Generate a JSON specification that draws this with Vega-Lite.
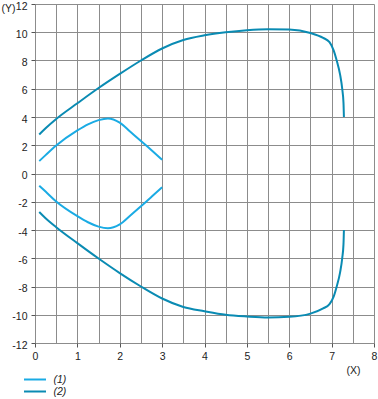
{
  "$schema": "https://vega.github.io/schema/vega-lite/v6.json",
  "width": 339,
  "height": 339,
  "autosize": {"type": "none"},
  "padding": {"left": 35, "top": 4, "right": 4, "bottom": 56},
  "config": {
    "view": {"stroke": null},
    "font": "Liberation Sans",
    "axis": {
      "domain": false,
      "grid": true,
      "gridColor": "#8c8c8c",
      "gridOpacity": 1,
      "gridWidth": 1,
      "tickColor": "#555555",
      "tickSize": 4,
      "labelFontSize": 10.5,
      "labelColor": "#222222",
      "labelFlush": false,
      "labelOverlap": false,
      "labelPadding": 4,
      "titleFontWeight": "normal",
      "titleFontSize": 10.5,
      "titleColor": "#222222"
    }
  },
  "data": {
    "values": [
      {"s": "(1)", "b": "1u", "i": 0, "x": 0.1, "y": 0.88},
      {"s": "(1)", "b": "1u", "i": 1, "x": 0.25, "y": 1.3},
      {"s": "(1)", "b": "1u", "i": 2, "x": 0.5, "y": 1.98},
      {"s": "(1)", "b": "1u", "i": 3, "x": 1.0, "y": 3.05},
      {"s": "(1)", "b": "1u", "i": 4, "x": 1.25, "y": 3.48},
      {"s": "(1)", "b": "1u", "i": 5, "x": 1.5, "y": 3.78},
      {"s": "(1)", "b": "1u", "i": 6, "x": 1.72, "y": 3.9},
      {"s": "(1)", "b": "1u", "i": 7, "x": 2.0, "y": 3.6},
      {"s": "(1)", "b": "1u", "i": 8, "x": 2.25, "y": 2.95},
      {"s": "(1)", "b": "1u", "i": 9, "x": 2.5, "y": 2.3},
      {"s": "(1)", "b": "1u", "i": 10, "x": 2.75, "y": 1.65},
      {"s": "(1)", "b": "1u", "i": 11, "x": 3.0, "y": 0.97},
      {"s": "(1)", "b": "1l", "i": 0, "x": 0.1, "y": -0.86},
      {"s": "(1)", "b": "1l", "i": 1, "x": 0.25, "y": -1.28},
      {"s": "(1)", "b": "1l", "i": 2, "x": 0.5, "y": -1.98},
      {"s": "(1)", "b": "1l", "i": 3, "x": 1.0, "y": -3.02},
      {"s": "(1)", "b": "1l", "i": 4, "x": 1.25, "y": -3.45},
      {"s": "(1)", "b": "1l", "i": 5, "x": 1.5, "y": -3.76},
      {"s": "(1)", "b": "1l", "i": 6, "x": 1.72, "y": -3.88},
      {"s": "(1)", "b": "1l", "i": 7, "x": 2.0, "y": -3.6},
      {"s": "(1)", "b": "1l", "i": 8, "x": 2.25, "y": -2.97},
      {"s": "(1)", "b": "1l", "i": 9, "x": 2.5, "y": -2.32},
      {"s": "(1)", "b": "1l", "i": 10, "x": 2.75, "y": -1.65},
      {"s": "(1)", "b": "1l", "i": 11, "x": 3.0, "y": -0.97},
      {"s": "(2)", "b": "2u", "i": 0, "x": 0.1, "y": 2.76},
      {"s": "(2)", "b": "2u", "i": 1, "x": 0.25, "y": 3.2},
      {"s": "(2)", "b": "2u", "i": 2, "x": 0.5, "y": 3.86},
      {"s": "(2)", "b": "2u", "i": 3, "x": 1.0, "y": 4.97},
      {"s": "(2)", "b": "2u", "i": 4, "x": 1.5, "y": 6.05},
      {"s": "(2)", "b": "2u", "i": 5, "x": 2.0, "y": 7.05},
      {"s": "(2)", "b": "2u", "i": 6, "x": 2.5, "y": 8.0},
      {"s": "(2)", "b": "2u", "i": 7, "x": 3.0, "y": 8.85},
      {"s": "(2)", "b": "2u", "i": 8, "x": 3.5, "y": 9.45},
      {"s": "(2)", "b": "2u", "i": 9, "x": 4.0, "y": 9.78},
      {"s": "(2)", "b": "2u", "i": 10, "x": 4.5, "y": 10.0},
      {"s": "(2)", "b": "2u", "i": 11, "x": 5.0, "y": 10.15},
      {"s": "(2)", "b": "2u", "i": 12, "x": 5.5, "y": 10.22},
      {"s": "(2)", "b": "2u", "i": 13, "x": 6.0, "y": 10.2},
      {"s": "(2)", "b": "2u", "i": 14, "x": 6.5, "y": 9.95},
      {"s": "(2)", "b": "2u", "i": 15, "x": 6.8, "y": 9.6},
      {"s": "(2)", "b": "2u", "i": 16, "x": 6.95, "y": 9.3},
      {"s": "(2)", "b": "2u", "i": 17, "x": 7.05, "y": 8.7},
      {"s": "(2)", "b": "2u", "i": 18, "x": 7.12, "y": 8.0},
      {"s": "(2)", "b": "2u", "i": 19, "x": 7.2, "y": 7.0},
      {"s": "(2)", "b": "2u", "i": 20, "x": 7.25, "y": 6.0},
      {"s": "(2)", "b": "2u", "i": 21, "x": 7.28, "y": 5.0},
      {"s": "(2)", "b": "2u", "i": 22, "x": 7.29, "y": 4.0},
      {"s": "(2)", "b": "2l", "i": 0, "x": 0.1, "y": -2.73},
      {"s": "(2)", "b": "2l", "i": 1, "x": 0.25, "y": -3.17},
      {"s": "(2)", "b": "2l", "i": 2, "x": 0.5, "y": -3.8},
      {"s": "(2)", "b": "2l", "i": 3, "x": 1.0, "y": -4.93},
      {"s": "(2)", "b": "2l", "i": 4, "x": 1.5, "y": -6.02},
      {"s": "(2)", "b": "2l", "i": 5, "x": 2.0, "y": -7.05},
      {"s": "(2)", "b": "2l", "i": 6, "x": 2.5, "y": -8.0},
      {"s": "(2)", "b": "2l", "i": 7, "x": 3.0, "y": -8.85},
      {"s": "(2)", "b": "2l", "i": 8, "x": 3.5, "y": -9.45},
      {"s": "(2)", "b": "2l", "i": 9, "x": 4.0, "y": -9.75},
      {"s": "(2)", "b": "2l", "i": 10, "x": 4.5, "y": -10.0},
      {"s": "(2)", "b": "2l", "i": 11, "x": 5.0, "y": -10.12},
      {"s": "(2)", "b": "2l", "i": 12, "x": 5.5, "y": -10.19},
      {"s": "(2)", "b": "2l", "i": 13, "x": 6.0, "y": -10.15},
      {"s": "(2)", "b": "2l", "i": 14, "x": 6.5, "y": -9.92},
      {"s": "(2)", "b": "2l", "i": 15, "x": 6.8, "y": -9.55},
      {"s": "(2)", "b": "2l", "i": 16, "x": 6.95, "y": -9.25},
      {"s": "(2)", "b": "2l", "i": 17, "x": 7.05, "y": -8.7},
      {"s": "(2)", "b": "2l", "i": 18, "x": 7.12, "y": -8.0},
      {"s": "(2)", "b": "2l", "i": 19, "x": 7.2, "y": -7.0},
      {"s": "(2)", "b": "2l", "i": 20, "x": 7.25, "y": -6.0},
      {"s": "(2)", "b": "2l", "i": 21, "x": 7.28, "y": -5.0},
      {"s": "(2)", "b": "2l", "i": 22, "x": 7.29, "y": -4.0}
    ]
  },
  "mark": {"type": "line", "interpolate": "monotone", "strokeWidth": 2},
  "encoding": {
    "x": {
      "field": "x",
      "type": "quantitative",
      "scale": {"domain": [0, 8], "nice": false, "zero": false},
      "axis": {
        "values": [0, 0.5, 1, 1.5, 2, 2.5, 3, 3.5, 4, 4.5, 5, 5.5, 6, 6.5, 7, 7.5, 8],
        "labelExpr": "datum.value % 1 === 0 ? '' + datum.value : ''",
        "tickOpacity": {"condition": {"test": "datum.value % 1 !== 0", "value": 0}, "value": 1},
        "title": "(X)",
        "titleX": 318,
        "titleY": 27,
        "titleAlign": "center",
        "titleBaseline": "middle"
      }
    },
    "y": {
      "field": "y",
      "type": "quantitative",
      "scale": {"domain": [-12, 12], "nice": false, "zero": false},
      "axis": {
        "values": [-12, -10, -8, -6, -4, -2, 0, 2, 4, 6, 8, 10, 12],
        "labelExpr": "'' + datum.value",
        "labelOffset": 2,
        "title": "(Y)",
        "titleAngle": 0,
        "titleX": -34,
        "titleY": 4,
        "titleAlign": "left",
        "titleBaseline": "middle"
      }
    },
    "color": {
      "field": "s",
      "type": "nominal",
      "scale": {"domain": ["(1)", "(2)"], "range": ["#1aabe4", "#0a8bb3"]},
      "legend": {
        "orient": "none",
        "legendX": -6.5,
        "legendY": 369,
        "title": null,
        "padding": 0,
        "symbolType": "M-2,0H2",
        "symbolSize": 121,
        "symbolStrokeWidth": 2,
        "symbolFillColor": "transparent",
        "labelFontStyle": "italic",
        "labelFontSize": 10.5,
        "labelColor": "#222222",
        "labelOffset": 12,
        "rowPadding": 0
      }
    },
    "detail": {"field": "b"},
    "order": {"field": "i"}
  }
}
